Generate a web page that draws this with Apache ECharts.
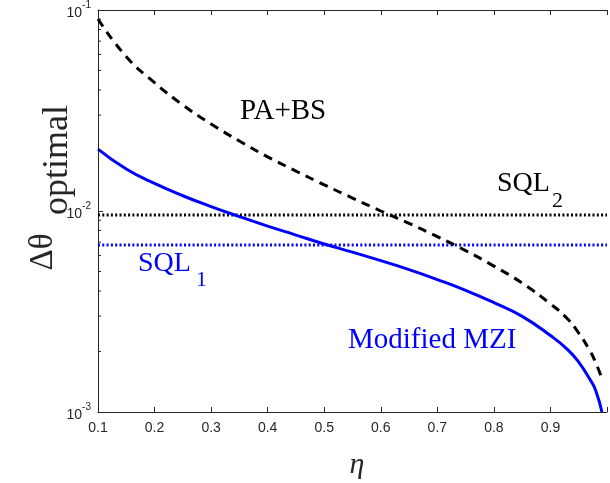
<!DOCTYPE html>
<html>
<head>
<meta charset="utf-8">
<script src="https://cdn.jsdelivr.net/npm/echarts@6/dist/echarts.min.js"></script>
<style>
html,body{margin:0;padding:0;background:#fff;}
#chart{width:610px;height:483px;}
</style>
</head>
<body>
<div id="chart"></div>
<script>
// ---- data ----
const etaValues = [0.1, 0.15, 0.2, 0.25, 0.3, 0.35, 0.4, 0.45, 0.5, 0.55, 0.6, 0.65, 0.7, 0.75, 0.8, 0.85, 0.9, 0.93, 0.95, 0.97, 0.98, 0.991];
const modifiedMZI = [0.02032, 0.01618, 0.01371, 0.01191, 0.01052, 0.00938, 0.00841, 0.00759, 0.00685, 0.00624, 0.00566, 0.00511, 0.00456, 0.00403, 0.0035, 0.00299, 0.0024, 0.00205, 0.00177, 0.00145, 0.00128, 0.001];
const paBs = [0.0902, 0.0586, 0.0435, 0.0337, 0.0271, 0.0223, 0.0186, 0.0158, 0.0135, 0.0116, 0.01, 0.00867, 0.00746, 0.00635, 0.00532, 0.00438, 0.00345, 0.00291, 0.00247, 0.00201, 0.00176, 0.00147];
const sqlRangeEta = [0.1, 1.0];
const sql1Value = 0.00678;
const sql2Value = 0.00955;
const xTickValues = [0.1, 0.2, 0.3, 0.4, 0.5, 0.6, 0.7, 0.8, 0.9];
const yMinorTicks = [0.002, 0.003, 0.004, 0.005, 0.006, 0.007, 0.008, 0.009, 0.02, 0.03, 0.04, 0.05, 0.06, 0.07, 0.08, 0.09];

const zip = (xs, ys) => xs.map((x, i) => [x, ys[i]]);
const SERIF = '"Liberation Serif","Times New Roman",serif';
const SANS = '"Liberation Sans",Arial,Helvetica,sans-serif';
const AX = '#262626';

const chart = echarts.init(document.getElementById('chart'), null, {renderer: 'canvas'});

const option = {
  animation: false,
  backgroundColor: '#fff',
  grid: {left: 98, top: 10, width: 516, height: 402, containLabel: false},
  xAxis: [{
    type: 'value', min: 0.1, max: 1.0, interval: 0.1,
    axisLine: {show: true, onZero: false, lineStyle: {color: AX, width: 1}},
    axisTick: {show: true, inside: true, length: 5, lineStyle: {color: AX}},
    axisLabel: {
      color: AX, fontFamily: SANS, fontSize: 14, margin: 9,
      formatter: v => {
        const s = v.toFixed(1);
        return xTickValues.some(t => t.toFixed(1) === s) ? s : '';
      }
    },
    splitLine: {show: false}
  }, {
    type: 'value', position: 'top', min: 0.1, max: 1.0, interval: 0.1,
    axisLine: {show: true, onZero: false, lineStyle: {color: AX, width: 1}},
    axisTick: {show: true, inside: true, length: 5, lineStyle: {color: AX}},
    axisLabel: {show: false},
    splitLine: {show: false}
  }],
  yAxis: {
    type: 'log', logBase: 10, min: 0.001, max: 0.1,
    axisLine: {show: true, onZero: false, lineStyle: {color: AX, width: 1}},
    axisTick: {show: true, inside: true, length: 5, lineStyle: {color: AX}},
    axisLabel: {
      margin: 7,
      formatter: v => '{b|10}{s|' + Math.round(Math.log10(v)) + '}',
      rich: {
        b: {fontFamily: SANS, fontSize: 14, color: AX, verticalAlign: 'bottom', lineHeight: 20},
        s: {fontFamily: SANS, fontSize: 10, color: AX, verticalAlign: 'top', lineHeight: 12}
      }
    },
    splitLine: {show: false}
  },
  series: [
    {
      name: 'SQL2', type: 'line', data: zip(sqlRangeEta, [sql2Value, sql2Value]),
      showSymbol: false, lineStyle: {color: '#000', width: 3, type: [2, 2.3], cap: 'butt'}, z: 2
    },
    {
      name: 'SQL1', type: 'line', data: zip(sqlRangeEta, [sql1Value, sql1Value]),
      showSymbol: false, lineStyle: {color: '#0000ff', width: 3, type: [2, 2.3], cap: 'butt'}, z: 2
    },
    {
      name: 'PA+BS', type: 'line', data: zip(etaValues, paBs),
      showSymbol: false, smooth: 0.5,
      lineStyle: {color: '#000', width: 3, type: [9, 6.5], cap: 'butt'}, z: 3
    },
    {
      name: 'Modified MZI', type: 'line', data: zip(etaValues, modifiedMZI),
      showSymbol: false, smooth: 0.5,
      lineStyle: {color: '#0000ff', width: 3}, z: 4
    },
    {
      name: 'minorTicks', type: 'custom', data: yMinorTicks.map(v => [0.1, v]),
      clip: false, silent: true, z: 5,
      renderItem: (params, api) => {
        const p = api.coord([api.value(0), api.value(1)]);
        return {type: 'line', shape: {x1: p[0], y1: p[1], x2: p[0] + 3, y2: p[1]},
                style: {stroke: AX, lineWidth: 1}};
      }
    }
  ],
  graphic: [
    {type: 'text', x: 240, y: 126, style: {text: 'PA+BS', font: '29px ' + SERIF, fill: '#000', textAlign: 'left', textVerticalAlign: 'bottom'}},
    {type: 'text', x: 497, y: 198, style: {text: 'SQL', font: '28px ' + SERIF, fill: '#000', textAlign: 'left', textVerticalAlign: 'bottom'}},
    {type: 'text', x: 552, y: 212, style: {text: '2', font: '22px ' + SERIF, fill: '#000', textAlign: 'left', textVerticalAlign: 'bottom'}},
    {type: 'text', x: 138, y: 278, style: {text: 'SQL', font: '28px ' + SERIF, fill: '#0000ff', textAlign: 'left', textVerticalAlign: 'bottom'}},
    {type: 'text', x: 196, y: 291, style: {text: '1', font: '22px ' + SERIF, fill: '#0000ff', textAlign: 'left', textVerticalAlign: 'bottom'}},
    {type: 'text', x: 348, y: 355, style: {text: 'Modified MZI', font: '29px ' + SERIF, fill: '#0000ff', textAlign: 'left', textVerticalAlign: 'bottom'}},
    {type: 'text', x: 357, y: 465, style: {text: 'η', font: 'italic 30px ' + SERIF, fill: AX, textAlign: 'center', textVerticalAlign: 'middle'}},
    {type: 'text', x: 43, y: 252, rotation: Math.PI / 2, style: {text: 'Δθ', font: '33px ' + SERIF, fill: AX, textAlign: 'center', textVerticalAlign: 'middle'}},
    {type: 'text', x: 58, y: 160, rotation: Math.PI / 2, style: {text: 'optimal', font: '36px ' + SERIF, fill: AX, textAlign: 'center', textVerticalAlign: 'middle'}}
  ]
};
chart.setOption(option);
</script>
</body>
</html>
